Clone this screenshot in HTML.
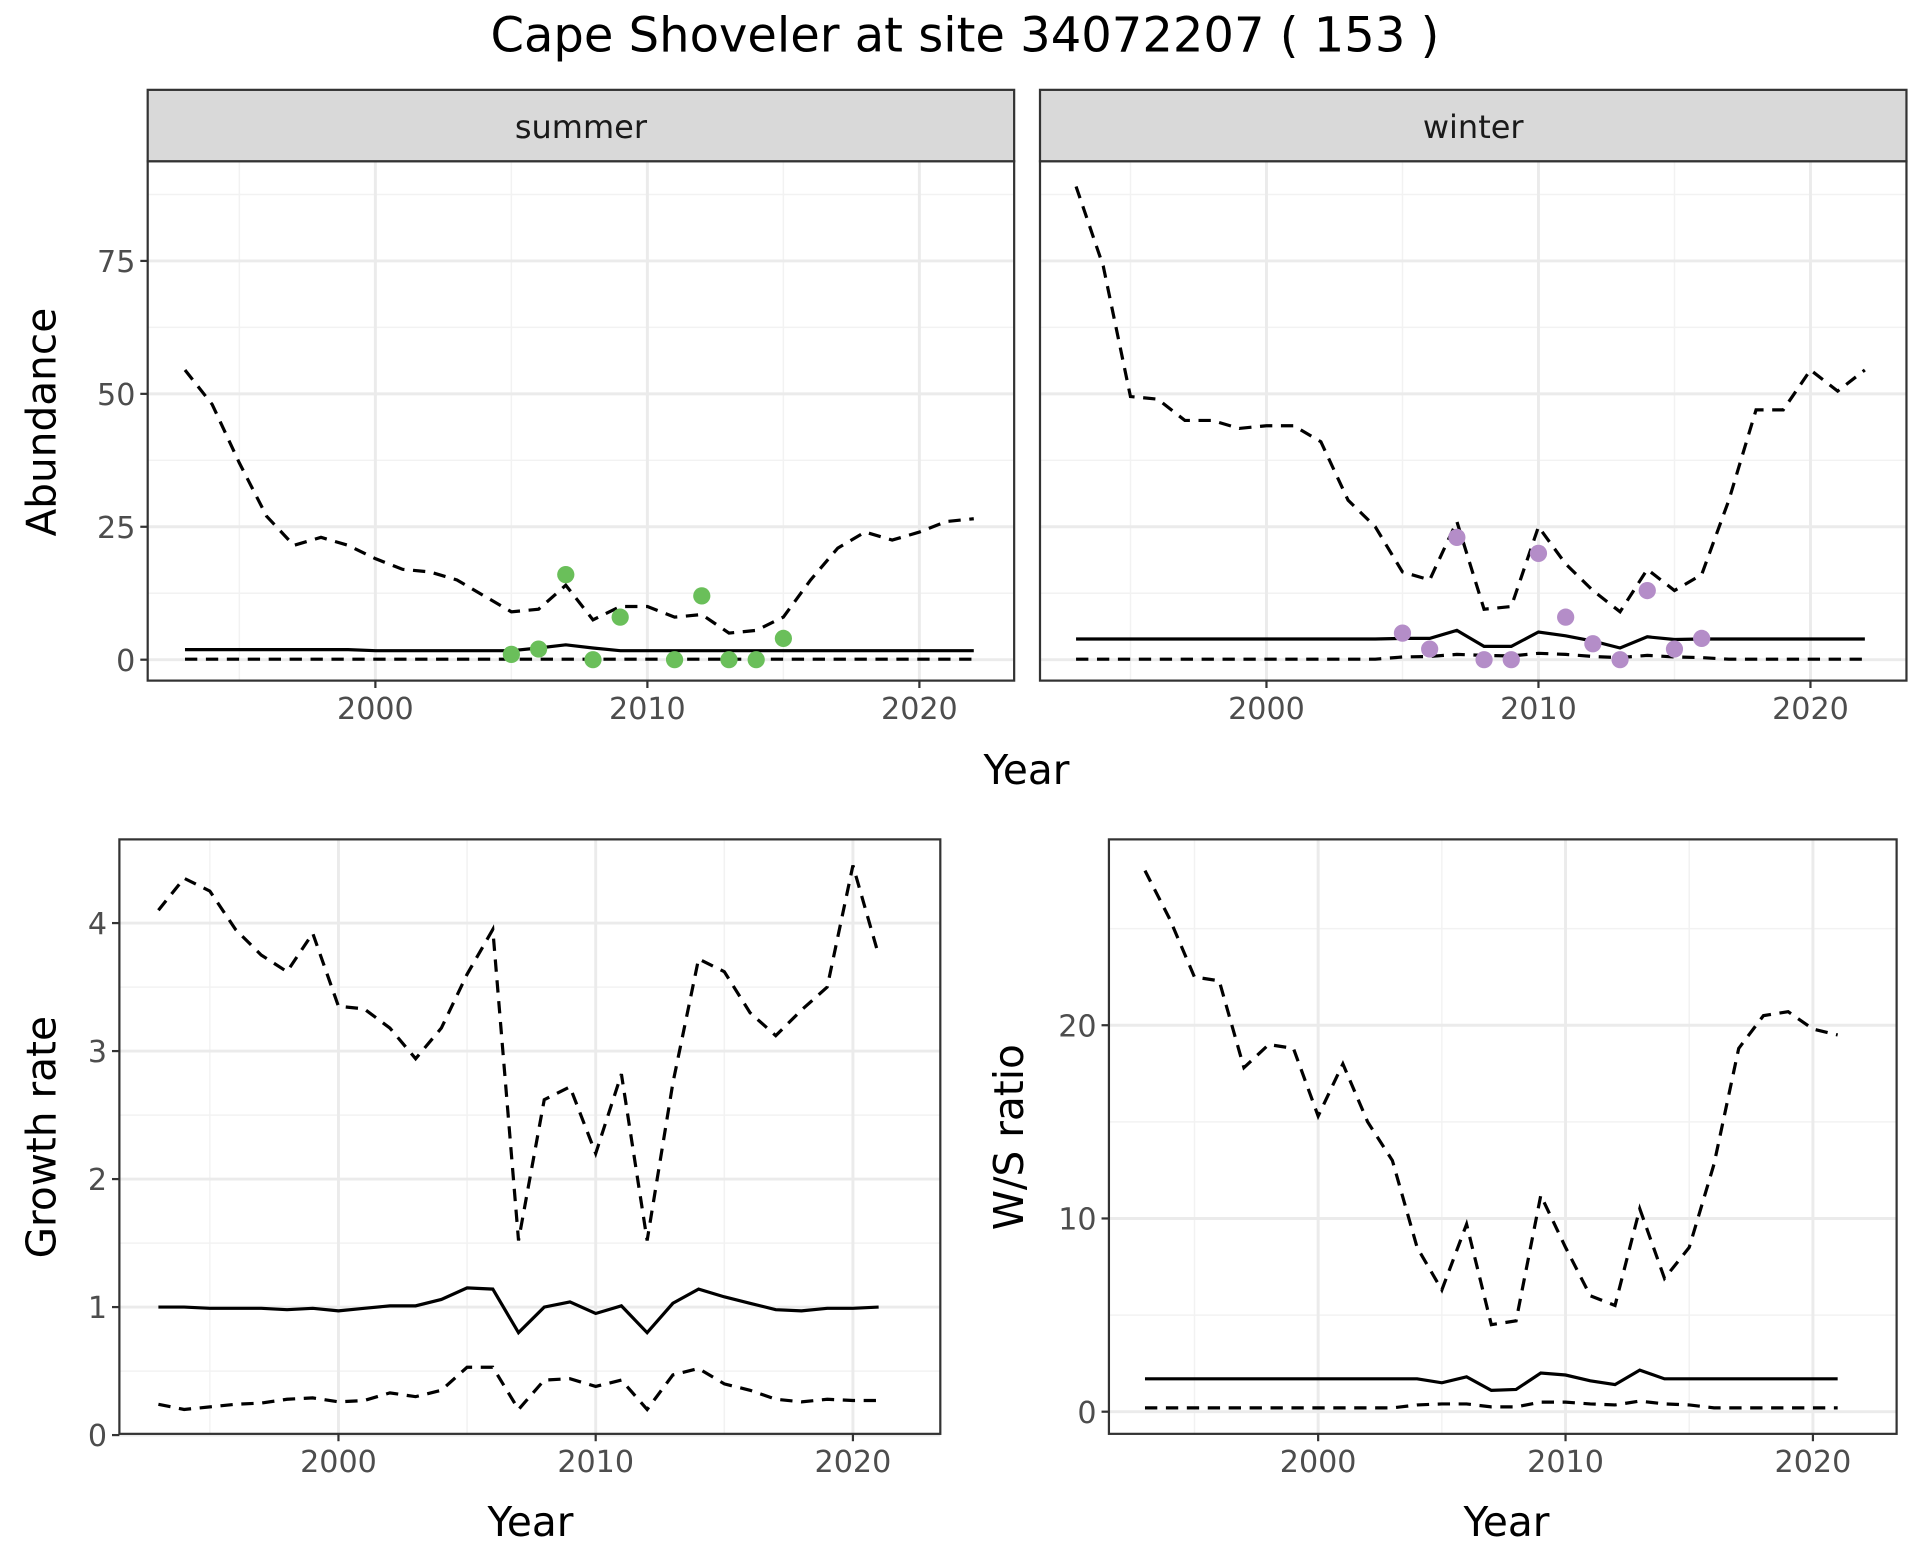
<!DOCTYPE html>
<html><head><meta charset="utf-8"><style>
html,body{margin:0;padding:0;background:#fff;}
svg{display:block;}
text{font-family:"DejaVu Sans","Liberation Sans",sans-serif;}
</style></head><body>
<svg id="s" width="1920" height="1560" viewBox="0 0 1560 1267.5" xmlns="http://www.w3.org/2000/svg"></svg>
<script>
const S=document.getElementById('s');let h='';
const yrs=[];for(let y=1993;y<=2022;y++)yrs.push(y);
function panel(o){
 const {x0,x1,y0,y1,fx,fy,xmaj,xmin,ymaj,ymin,showY}=o;
 h+=`<rect x="${x0}" y="${y0}" width="${x1-x0}" height="${y1-y0}" fill="#fff"/>`;
 xmin.forEach(v=>h+=`<line x1="${fx(v)}" x2="${fx(v)}" y1="${y0}" y2="${y1}" stroke="#f2f2f2" stroke-width="1.2"/>`);
 ymin.forEach(v=>h+=`<line y1="${fy(v)}" y2="${fy(v)}" x1="${x0}" x2="${x1}" stroke="#f2f2f2" stroke-width="1.2"/>`);
 xmaj.forEach(v=>h+=`<line x1="${fx(v)}" x2="${fx(v)}" y1="${y0}" y2="${y1}" stroke="#ebebeb" stroke-width="2.4"/>`);
 ymaj.forEach(v=>h+=`<line y1="${fy(v)}" y2="${fy(v)}" x1="${x0}" x2="${x1}" stroke="#ebebeb" stroke-width="2.4"/>`);
 xmaj.forEach(v=>{h+=`<line x1="${fx(v)}" x2="${fx(v)}" y1="${y1}" y2="${y1+6}" stroke="#333" stroke-width="1.8"/><text x="${fx(v)}" y="${y1+31}" font-size="24.5" fill="#4d4d4d" text-anchor="middle">${v}</text>`;});
 if(showY)ymaj.forEach(v=>{h+=`<line x1="${x0-6}" x2="${x0}" y1="${fy(v)}" y2="${fy(v)}" stroke="#333" stroke-width="1.8"/><text x="${x0-10}" y="${fy(v)+9}" font-size="24.5" fill="#4d4d4d" text-anchor="end">${v}</text>`;});
}
function line(xs,ys,fx,fy,dash){
 h+=`<polyline fill="none" stroke="#000" stroke-width="2.6" ${dash?'stroke-dasharray="10,7"':''} points="${xs.map((x,i)=>fx(x).toFixed(1)+','+fy(ys[i]).toFixed(1)).join(' ')}"/>`;
}
function border(x0,y0,x1,y1){h+=`<rect x="${x0}" y="${y0}" width="${x1-x0}" height="${y1-y0}" fill="none" stroke="#333" stroke-width="1.8"/>`;}
const tfy=v=>536-v*4.32;
const sU=[54.5,48,37,27,21.5,23,21.5,19,17,16.5,15,12,9,9.5,14,7.5,10,10,8,8.5,5,5.5,8,15,21,24,22.5,24,26,26.5];
const sM=yrs.map(y=>y==2007?2.8:(y==2006||y==2008?2.2:(y<2000?1.9:1.7)));
const sL=yrs.map(y=>0.1);
const wU=[89,74,49.5,49,45,45,43.5,44,44,41,30,25,16.5,15,26,9.5,10,25,18,13,9,17,13,16,30,47,47,54.5,50.5,54.5];
const wMmap={2005:4,2006:4,2007:5.5,2008:2.5,2009:2.5,2010:5.2,2011:4.5,2012:3.5,2013:2.2,2014:4.3,2015:3.8};
const wM=yrs.map(y=>wMmap[y]??3.9);
const wLmap={2005:0.5,2006:0.6,2007:1,2008:0.8,2009:0.7,2010:1.2,2011:1,2012:0.6,2013:0.4,2014:0.8,2015:0.5,2016:0.4};
const wL=yrs.map(y=>wLmap[y]??0.1);
const sp=[[2005,1],[2006,2],[2007,16],[2008,0],[2009,8],[2011,0],[2012,12],[2013,0],[2014,0],[2015,4]];
const wp=[[2005,5],[2006,2],[2007,23],[2008,0],[2009,0],[2010,20],[2011,8],[2012,3],[2013,0],[2014,13],[2015,2],[2016,4]];
[[120,824,305,sU,sM,sL,sp,'#6abf5a','summer',true],[845,1549,1029,wU,wM,wL,wp,'#b48dc8','winter',false]].forEach(p=>{
 const [x0,x1,b,U,M,L,pts,col,lab,sy]=p;const fx=v=>b+(v-2000)*22.1;
 panel({x0,x1,y0:131,y1:553,fx,fy:tfy,xmaj:[2000,2010,2020],xmin:[1995,2005,2015],ymaj:[0,25,50,75],ymin:[12.5,37.5,62.5,87.5],showY:sy});
 line(yrs,U,fx,tfy,1);line(yrs,M,fx,tfy,0);line(yrs,L,fx,tfy,1);
 pts.forEach(q=>h+=`<circle cx="${fx(q[0])}" cy="${tfy(q[1])}" r="7" fill="${col}"/>`);
 border(x0,131,x1,553);
 h+=`<rect x="${x0}" y="73" width="${x1-x0}" height="58" fill="#d9d9d9" stroke="#333" stroke-width="1.8"/><text x="${(x0+x1)/2}" y="112" font-size="26" fill="#1a1a1a" text-anchor="middle">${lab}</text>`;
});
h+=`<text x="834" y="637" font-size="33" text-anchor="middle">Year</text>`;
h+=`<text transform="translate(45,343) rotate(-90)" font-size="33" text-anchor="middle">Abundance</text>`;
h+=`<text x="784" y="42" font-size="39" text-anchor="middle">Cape Shoveler at site 34072207 ( 153 )</text>`;
const y2=yrs.slice(0,29);
const gU=[4.1,4.35,4.25,3.95,3.75,3.62,3.92,3.35,3.33,3.18,2.94,3.18,3.6,3.95,1.52,2.62,2.72,2.2,2.82,1.52,2.75,3.72,3.62,3.3,3.12,3.32,3.5,4.45,3.75];
const gM=[1,1,.99,.99,.99,.98,.99,.97,.99,1.01,1.01,1.06,1.15,1.14,.8,1,1.04,.95,1.01,.8,1.03,1.14,1.08,1.03,.98,.97,.99,.99,1.0];
const gL=[.24,.2,.22,.24,.25,.28,.29,.26,.27,.33,.3,.35,.53,.53,.2,.43,.44,.38,.43,.2,.47,.52,.4,.35,.28,.26,.28,.27,.27];
{const fx=v=>275+(v-2000)*20.9,fy=v=>1166-v*104;
 panel({x0:97,x1:764,y0:682,y1:1165,fx,fy,xmaj:[2000,2010,2020],xmin:[1995,2005,2015],ymaj:[0,1,2,3,4],ymin:[0.5,1.5,2.5,3.5],showY:true});
 line(y2,gU,fx,fy,1);line(y2,gM,fx,fy,0);line(y2,gL,fx,fy,1);border(97,682,764,1165);
 h+=`<text x="431" y="1248" font-size="33" text-anchor="middle">Year</text><text transform="translate(45,924) rotate(-90)" font-size="33" text-anchor="middle">Growth rate</text>`;}
const rU=[28,25.5,22.5,22.3,17.8,19,18.8,15.3,18,15,13,8.5,6.3,9.7,4.5,4.7,11.2,8.5,6,5.5,10.5,6.9,8.5,12.8,18.8,20.5,20.7,19.8,19.5];
const rMm={2005:1.5,2006:1.8,2007:1.1,2008:1.15,2009:2,2010:1.9,2011:1.6,2012:1.4,2013:2.15,2014:1.7};
const rM=y2.map(y=>rMm[y]??1.7);
const rLm={2004:0.35,2005:0.4,2006:0.4,2007:0.25,2008:0.25,2009:0.5,2010:0.5,2011:0.4,2012:0.35,2013:0.55,2014:0.4,2015:0.35};
const rL=y2.map(y=>rLm[y]??0.2);
{const fx=v=>1071+(v-2000)*20.1,fy=v=>1147-v*15.7;
 panel({x0:901,x1:1541,y0:682,y1:1165,fx,fy,xmaj:[2000,2010,2020],xmin:[1995,2005,2015],ymaj:[0,10,20],ymin:[5,15,25],showY:true});
 line(y2,rU,fx,fy,1);line(y2,rM,fx,fy,0);line(y2,rL,fx,fy,1);border(901,682,1541,1165);
 h+=`<text x="1224" y="1248" font-size="33" text-anchor="middle">Year</text><text transform="translate(831,924) rotate(-90)" font-size="33" text-anchor="middle">W/S ratio</text>`;}
S.innerHTML=h;
</script>
</body></html>
